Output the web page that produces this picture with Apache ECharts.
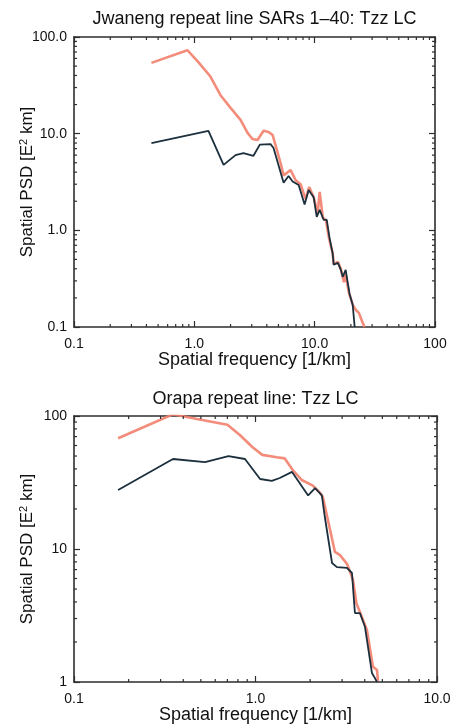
<!DOCTYPE html>
<html>
<head>
<meta charset="utf-8">
<script src="https://cdn.jsdelivr.net/npm/echarts@6/dist/echarts.min.js"></script>
<style>
html,body{margin:0;padding:0;background:#fff;}
#chart{width:466px;height:726px;}
</style>
</head>
<body>
<div id="chart"></div>
<script>
// ---- Data ----
// Top panel: Jwaneng repeat line SARs 1–40
const topRedFreq   = [0.44, 0.875, 1.08, 1.36, 1.65, 2.0, 2.42, 2.77, 3.04, 3.35, 3.76, 4.14, 4.47, 4.9, 5.2, 5.52, 6.31, 6.95, 7.64, 8.41, 9.0, 9.81, 10.6, 11.0, 11.7, 12.4, 13.1, 14.1, 14.4, 15.6, 16.5, 17.5, 18.1, 19.2, 20.7, 22.0, 23.3, 25.1, 26.0];
const topRedPsd    = [54, 73, 55, 39, 25, 18.5, 13.9, 10.2, 8.8, 8.6, 10.7, 10.4, 9.7, 6.5, 5.0, 3.7, 4.2, 3.3, 3.0, 2.1, 2.8, 2.2, 1.5, 2.5, 1.35, 1.28, 0.85, 0.58, 0.45, 0.47, 0.40, 0.29, 0.35, 0.23, 0.17, 0.15, 0.14, 0.11, 0.1];
const topBlackFreq = [0.44, 1.31, 1.75, 2.2, 2.56, 3.1, 3.5, 4.3, 4.55, 5.52, 6.07, 6.56, 7.36, 8.25, 8.91, 9.81, 10.4, 11.0, 11.9, 12.6, 13.3, 14.1, 14.4, 15.6, 16.5, 17.1, 18.1, 18.8, 19.5, 20.7, 21.5];
const topBlackPsd  = [8.0, 10.7, 4.75, 6.0, 6.3, 5.9, 7.7, 7.8, 7.1, 3.1, 3.65, 3.2, 2.94, 1.85, 2.62, 2.2, 1.38, 1.63, 1.28, 1.28, 0.83, 0.58, 0.44, 0.46, 0.39, 0.33, 0.39, 0.29, 0.22, 0.17, 0.1];

// Bottom panel: Orapa repeat line
const botRedFreq   = [0.175, 0.351, 0.476, 0.70, 0.82, 0.96, 1.09, 1.31, 1.45, 1.61, 1.80, 2.07, 2.27, 2.35, 2.74, 2.92, 3.2, 3.44, 3.6, 3.76, 4.11, 4.44, 4.67, 4.73];
const botRedPsd    = [68, 103, 95, 86, 72, 58.5, 51, 49, 48, 39, 33, 30, 26.4, 24.6, 9.5, 9.0, 7.7, 5.9, 3.9, 3.36, 2.46, 1.30, 1.23, 1.02];
const botBlackFreq = [0.175, 0.351, 0.527, 0.71, 0.875, 1.06, 1.23, 1.36, 1.59, 1.95, 2.13, 2.32, 2.41, 2.64, 2.81, 3.19, 3.40, 3.53, 3.76, 4.01, 4.38, 4.55, 4.67];
const botBlackPsd  = [27.8, 47.5, 45, 50, 47.5, 33.6, 32.5, 34.2, 38, 25.3, 28.7, 25.3, 17.4, 7.85, 7.3, 7.2, 6.6, 3.3, 3.3, 2.6, 1.17, 1.07, 1.0];

// Tick labels
const topXLabels = ['0.1', '1.0', '10.0', '100'];
const topYLabels = ['0.1', '1.0', '10.0', '100.0'];
const botXLabels = ['0.1', '1.0', '10.0'];
const botYLabels = ['1', '10', '100'];

const topTitle = 'Jwaneng repeat line SARs 1\u201340: Tzz LC';
const botTitle = 'Orapa repeat line: Tzz LC';
const xName = 'Spatial frequency [1/km]';
const yName = 'Spatial PSD [E{sup|2} km]';

// ---- Build ----
const FONT = '"Liberation Sans", Arial, Helvetica, sans-serif';
const AX = '#2e2e2e';
const RED = '#f27f6b';
const BLACK = '#1c2f3d';

function zip(a, b) { return a.map((v, i) => [v, b[i]]); }
function minorValues(lo, hi) {
  const out = [];
  for (let d = lo; d < hi * 0.999; d *= 10) {
    for (let m = 2; m <= 9; m++) out.push(+(m * d).toPrecision(3));
  }
  return out;
}
function labelFmt(labels, lo) {
  return function (v) {
    const i = Math.round(Math.log10(v) - Math.log10(lo));
    return labels[i] !== undefined ? labels[i] : '';
  };
}
function xAxisDef(grid, pos, lo, hi, labels, name, nameGap) {
  const a = {
    type: 'log', logBase: 10, gridIndex: grid, position: pos, min: lo, max: hi,
    axisLine: { show: true, lineStyle: { color: AX, width: 1.6 } },
    axisTick: { show: true, inside: true, length: 6, lineStyle: { color: AX, width: 1.2 } },
    axisLabel: { show: !!labels, color: '#111', fontSize: 14, fontFamily: FONT, margin: 10,
                 formatter: labels ? labelFmt(labels, lo) : undefined },
    splitLine: { show: false },
    minorTick: { show: false }
  };
  if (name) {
    a.name = name; a.nameLocation = 'middle'; a.nameGap = nameGap; a.nameMoveOverlap = false;
    a.nameTextStyle = { color: '#111', fontSize: 18, fontFamily: FONT };
  }
  return a;
}
function yAxisDef(grid, pos, lo, hi, labels, name, nameGap) {
  const a = {
    type: 'log', logBase: 10, gridIndex: grid, position: pos, min: lo, max: hi,
    axisLine: { show: true, lineStyle: { color: AX, width: 1.6 } },
    axisTick: { show: true, inside: true, length: 6, lineStyle: { color: AX, width: 1.2 } },
    axisLabel: { show: !!labels, color: '#111', fontSize: 14, fontFamily: FONT, margin: 7,
                 formatter: labels ? labelFmt(labels, lo) : undefined },
    splitLine: { show: false },
    minorTick: { show: false }
  };
  if (name) {
    a.name = name; a.nameLocation = 'middle'; a.nameGap = nameGap; a.nameRotate = 90; a.nameMoveOverlap = false;
    a.nameTextStyle = {
      color: '#111', fontSize: 17, fontFamily: FONT,
      rich: { sup: { fontSize: 11, verticalAlign: 'top', padding: [0, 0, 8, 0], color: '#111', fontFamily: FONT } }
    };
  }
  return a;
}

// custom series drawing minor ticks through the axis scales
function minorTickSeries(xi, yi, data, dx, dy) {
  return {
    type: 'custom', xAxisIndex: xi, yAxisIndex: yi, silent: true, clip: false, z: 5,
    data: data,
    renderItem: function (params, api) {
      const p = api.coord([api.value(0), api.value(1)]);
      return {
        type: 'line',
        shape: { x1: p[0], y1: p[1], x2: p[0] + dx, y2: p[1] + dy },
        style: { stroke: AX, lineWidth: 1.2 }
      };
    }
  };
}

const tX = [0.1, 100], tY = [0.1, 100];
const bX = [0.1, 10], bY = [1, 100];
const tXm = minorValues(tX[0], tX[1]), tYm = minorValues(tY[0], tY[1]);
const bXm = minorValues(bX[0], bX[1]), bYm = minorValues(bY[0], bY[1]);
const ML = 3;

const option = {
  backgroundColor: '#ffffff',
  animation: false,
  grid: [
    { left: 74, top: 37, width: 361, height: 290 },
    { left: 74, top: 416, width: 363, height: 266 }
  ],
  xAxis: [
    xAxisDef(0, 'bottom', tX[0], tX[1], topXLabels, xName, 24),
    xAxisDef(0, 'top', tX[0], tX[1], null, topTitle, 9),
    xAxisDef(1, 'bottom', bX[0], bX[1], botXLabels, xName, 24),
    xAxisDef(1, 'top', bX[0], bX[1], null, botTitle, 8)
  ],
  yAxis: [
    yAxisDef(0, 'left', tY[0], tY[1], topYLabels, yName, 37),
    yAxisDef(0, 'right', tY[0], tY[1], null),
    yAxisDef(1, 'left', bY[0], bY[1], botYLabels, yName, 37),
    yAxisDef(1, 'right', bY[0], bY[1], null)
  ],
  series: [
    { type: 'line', xAxisIndex: 0, yAxisIndex: 0, data: zip(topRedFreq, topRedPsd), showSymbol: false,
      lineStyle: { color: RED, width: 2.6, opacity: 0.9 }, itemStyle: { color: RED }, z: 2 },
    { type: 'line', xAxisIndex: 0, yAxisIndex: 0, data: zip(topBlackFreq, topBlackPsd), showSymbol: false,
      lineStyle: { color: BLACK, width: 1.8 }, itemStyle: { color: BLACK }, z: 3 },
    { type: 'line', xAxisIndex: 2, yAxisIndex: 2, data: zip(botRedFreq, botRedPsd), showSymbol: false,
      lineStyle: { color: RED, width: 2.6, opacity: 0.9 }, itemStyle: { color: RED }, z: 2 },
    { type: 'line', xAxisIndex: 2, yAxisIndex: 2, data: zip(botBlackFreq, botBlackPsd), showSymbol: false,
      lineStyle: { color: BLACK, width: 1.8 }, itemStyle: { color: BLACK }, z: 3 },
    // minor ticks, top panel
    minorTickSeries(0, 0, tXm.map(v => [v, tY[0]]), 0, -ML),
    minorTickSeries(0, 0, tXm.map(v => [v, tY[1]]), 0, ML),
    minorTickSeries(0, 0, tYm.map(v => [tX[0], v]), ML, 0),
    minorTickSeries(0, 0, tYm.map(v => [tX[1], v]), -ML, 0),
    // minor ticks, bottom panel
    minorTickSeries(2, 2, bXm.map(v => [v, bY[0]]), 0, -ML),
    minorTickSeries(2, 2, bXm.map(v => [v, bY[1]]), 0, ML),
    minorTickSeries(2, 2, bYm.map(v => [bX[0], v]), ML, 0),
    minorTickSeries(2, 2, bYm.map(v => [bX[1], v]), -ML, 0)
  ]
};

const chart = echarts.init(document.getElementById('chart'), null, { renderer: 'canvas' });
chart.setOption(option);
</script>
</body>
</html>
